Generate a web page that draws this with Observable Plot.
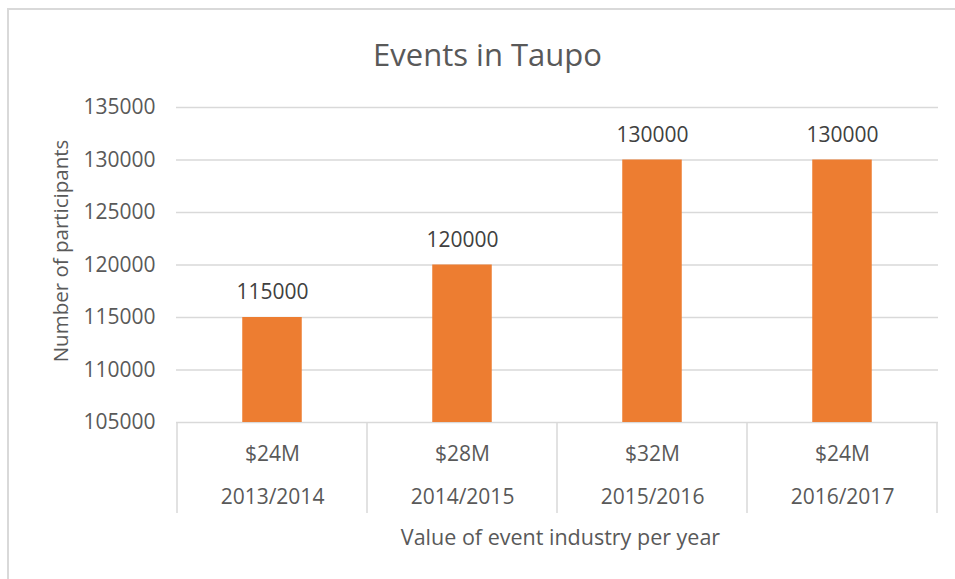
<!DOCTYPE html>
<html>
<head>
<meta charset="utf-8">
<script src="https://cdn.jsdelivr.net/npm/d3@7"></script>
<script src="https://cdn.jsdelivr.net/npm/@observablehq/plot@0.6"></script>
<style>
  html, body { margin: 0; padding: 0; background: #fff; }
  #wrap { position: relative; width: 955px; height: 579px; overflow: hidden; }
  #frame { position: absolute; left: 7px; top: 8px; width: 1000px; height: 700px; border: 2px solid #d9d9d9; box-sizing: border-box; }
  #chart { position: absolute; left: 0; top: 0; }
</style>
</head>
<body>
<div id="wrap"><div id="frame"></div><div id="chart"></div></div>
<script>
const title = "Events in Taupo";
const yTitle = "Number of participants";
const xTitle = "Value of event industry per year";
const years = ["2013/2014", "2014/2015", "2015/2016", "2016/2017"];
const values = ["$24M", "$28M", "$32M", "$24M"];
const participants = [115000, 120000, 130000, 130000];
const yTicks = [105000, 110000, 115000, 120000, 125000, 130000, 135000];

const data = years.map((y, i) => ({year: y, value: values[i], n: participants[i]}));
const yMin = yTicks[0];
const font = "'Open Sans', sans-serif";
const grey = "#595959";

const chart = Plot.plot({
  width: 955,
  height: 579,
  marginLeft: 176,
  marginRight: 17,
  marginTop: 107,
  marginBottom: 157,
  style: {fontFamily: font, background: "transparent"},
  x: {domain: years, padding: 0, axis: null},
  y: {domain: [yMin, yTicks[yTicks.length - 1]], axis: null},
  marks: [
    Plot.gridY(yTicks, {stroke: "#d9d9d9", strokeOpacity: 1, strokeWidth: 1.5}),
    Plot.axisY({ticks: yTicks, tickSize: 0, tickPadding: 21, fontSize: 21, fill: grey, tickFormat: d => String(d), label: null}),
    Plot.barY(data, {x: "year", y1: () => yMin, y2: "n", fill: "#ED7D31", insetLeft: 65.25, insetRight: 65.25}),
    Plot.text(data, {x: "year", y: "n", text: d => String(d.n), dy: -25, fontSize: 21, fill: "#404040"}),
    Plot.text(data, {x: "year", text: "value", frameAnchor: "bottom", dy: 38, fontSize: 21, fill: grey}),
    Plot.text(data, {x: "year", text: "year", frameAnchor: "bottom", dy: 81, fontSize: 21, fill: grey}),
    Plot.text([xTitle], {frameAnchor: "bottom", dx: 3, dy: 122, fontSize: 21.5, fill: grey}),
    Plot.text([yTitle], {frameAnchor: "left", textAnchor: "middle", rotate: -90, dx: -115, dy: -14, fontSize: 20.5, fill: grey}),
    Plot.text([title], {frameAnchor: "top", dx: -70, dy: -64, fontSize: 31, fill: grey})
  ]
});

document.getElementById("chart").appendChild(chart);

// category separators derived from the band scale
const xs = chart.scale("x"), ys = chart.scale("y");
const svg = d3.select(chart);
const y0 = ys.apply(yMin);
const edges = years.map(d => xs.apply(d)).concat([xs.apply(years[years.length - 1]) + xs.bandwidth]);
svg.append("g")
  .selectAll("line").data(edges).join("line")
  .attr("x1", d => d).attr("x2", d => d)
  .attr("y1", y0).attr("y2", y0 + 91)
  .attr("stroke", "#d9d9d9").attr("stroke-width", 1.5);
</script>
</body>
</html>
